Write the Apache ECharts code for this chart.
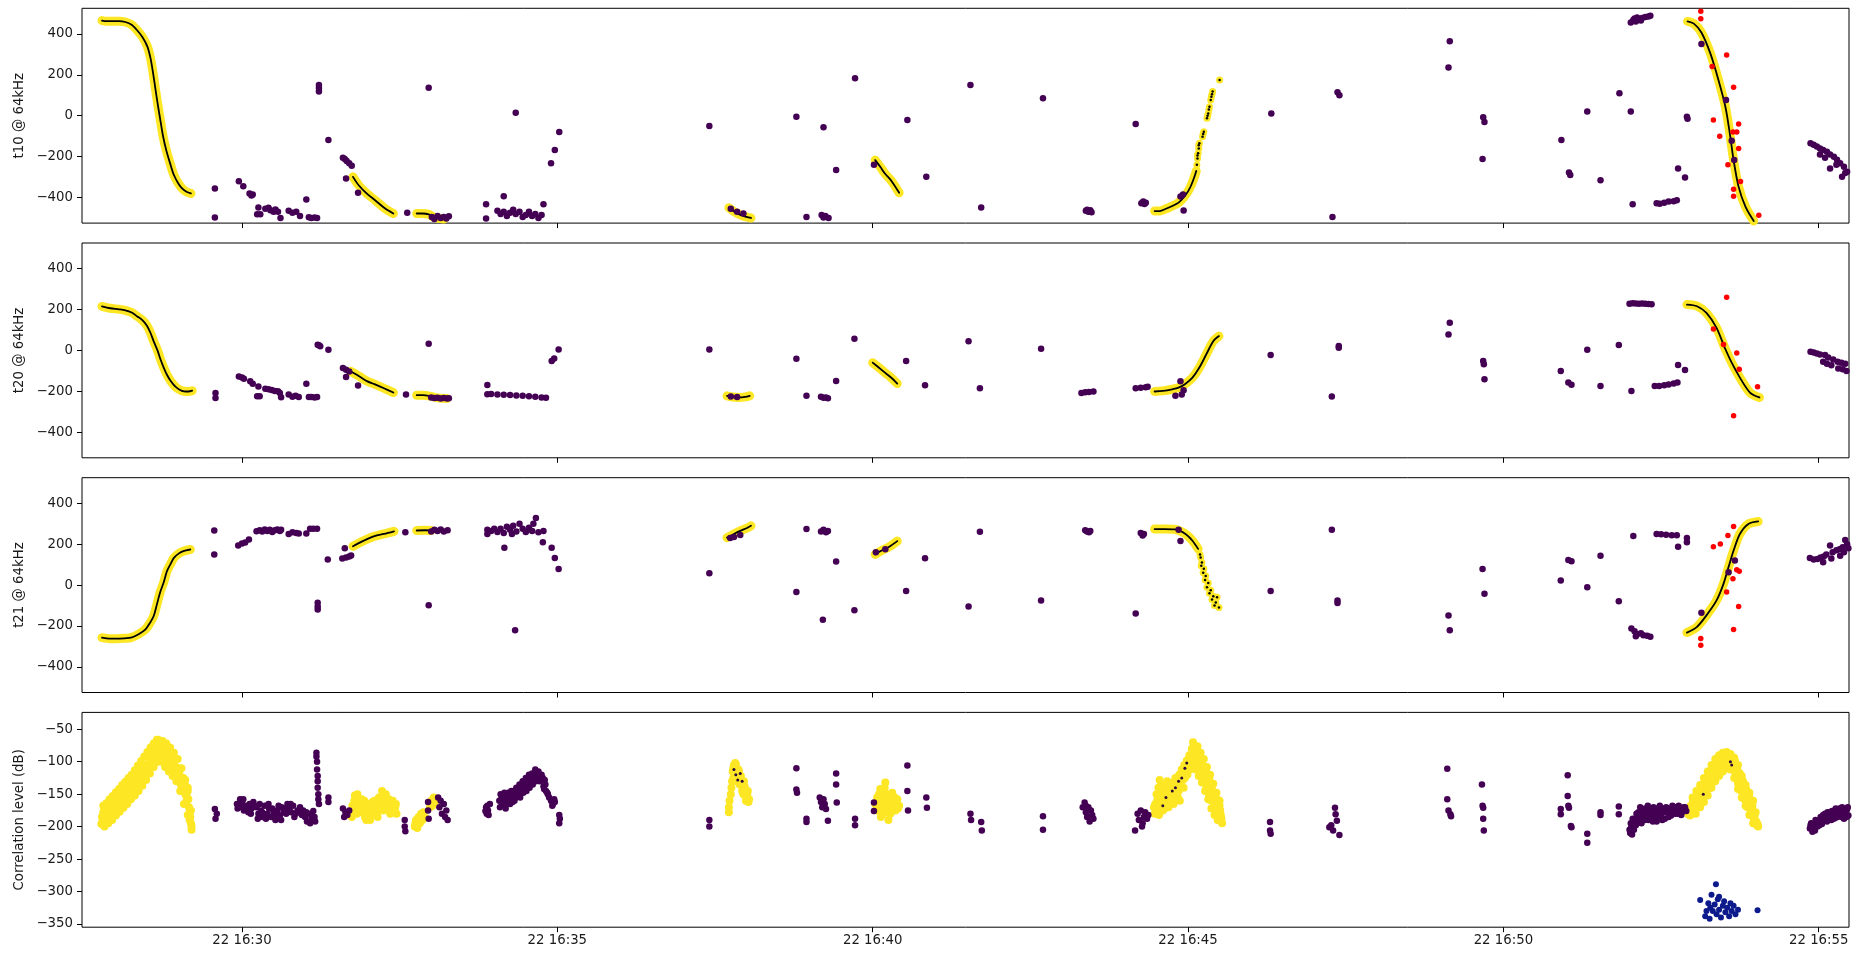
<!DOCTYPE html>
<html>
<head>
<meta charset="utf-8">
<script src="https://cdn.jsdelivr.net/npm/echarts@6/dist/echarts.min.js"></script>
<style>
html,body{margin:0;padding:0;background:#fff;}
#chart{width:1858px;height:954px;}
</style>
</head>
<body>
<div id="chart"></div>
<script>
// x values: minutes after 22 16:00
const X_TICKS = [30, 35, 40, 45, 50, 55];
const T_TICKS = [-400, -200, 0, 200, 400];
const DB_TICKS = [-350, -300, -250, -200, -150, -100, -50];
const PANEL_NAMES = ['t10 @ 64kHz', 't20 @ 64kHz', 't21 @ 64kHz', 'Correlation level (dB)'];

// ---------- t10 ----------
const T10_FIT = [
  [[27.78,465],[27.85,462],[27.95,462],[28.05,462],[28.15,458],[28.25,445],[28.33,420],[28.42,385],[28.5,338],[28.55,280],[28.59,208],[28.63,125],[28.67,44],[28.71,-30],[28.75,-103],[28.8,-170],[28.86,-233],[28.92,-290],[28.99,-331],[29.05,-355],[29.12,-372],[29.19,-380]],
  [[31.76,-299],[31.85,-340],[31.98,-381],[32.11,-413],[32.27,-454],[32.4,-478]],
  [[32.77,-478],[32.86,-478],[32.96,-482],[33.05,-498],[33.2,-505]],
  [[37.72,-450],[37.8,-468],[37.9,-485],[38.0,-495],[38.07,-500]],
  [[40.04,-217],[40.12,-250],[40.2,-285],[40.3,-320],[40.42,-377]],
  [[44.47,-466],[44.55,-466],[44.65,-455],[44.76,-440],[44.85,-425],[44.93,-400],[45.0,-370],[45.05,-340],[45.1,-300],[45.13,-270]],
  [[52.92,461],[53.02,450],[53.14,407],[53.28,306],[53.41,175],[53.52,44],[53.59,-86],[53.65,-217],[53.73,-348],[53.84,-446],[53.97,-515]]
];
const T10_DOTS = [[45.14,-240],[45.15,-209],[45.15,-195],[45.16,-184],[45.17,-160],[45.17,-145],[45.18,-135],[45.23,-103],[45.24,-90],[45.25,-78],[45.3,-13],[45.31,0],[45.32,11],[45.33,30],[45.34,44],[45.36,77],[45.37,93],[45.38,105],[45.39,118],[45.5,175]];
const T10_PURPLE = [
  [29.57,-356],[29.57,-498],[29.95,-320],[30.02,-345],[30.12,-380],[30.15,-390],[30.17,-385],
  [30.26,-449],[30.24,-482],[30.29,-482],[30.37,-455],[30.42,-450],[30.45,-462],[30.5,-470],[30.53,-458],[30.57,-470],[30.61,-500],
  [30.74,-465],[30.8,-475],[30.86,-470],[30.92,-490],[31.02,-410],[31.06,-497],[31.1,-500],[31.15,-498],[31.19,-500],
  [31.22,150],[31.22,135],[31.22,118],[31.37,-119],
  [31.6,-205],[31.63,-212],[31.66,-222],[31.7,-232],[31.74,-245],[31.65,-307],[31.84,-377],
  [32.62,-474],[32.96,137],
  [33.01,-495],[33.05,-505],[33.1,-490],[33.15,-500],[33.2,-495],[33.24,-502],[33.28,-492],
  [33.87,-433],[33.87,-503],[34.15,-394],[34.05,-465],[34.1,-480],[34.15,-470],[34.2,-490],[34.25,-475],[34.3,-460],[34.34,-480],[34.4,-470],[34.45,-495],[34.5,-485],[34.55,-470],[34.6,-490],[34.65,-480],[34.7,-500],[34.75,-485],[34.78,-433],
  [34.34,15],[34.9,-233],[34.96,-168],[35.03,-80],
  [37.41,-50],[37.75,-455],[37.85,-470],[37.95,-478],
  [38.79,-5],[38.95,-495],[39.19,-485],[39.22,-498],[39.25,-490],[39.3,-500],[39.22,-57],[39.42,-266],[39.72,183],
  [40.02,-240],[40.55,-21],[40.85,-299],[41.55,150],[41.72,-449],[42.7,85],
  [43.38,-465],[43.4,-460],[43.42,-470],[43.45,-462],[43.47,-472],
  [44.17,-41],[44.26,-428],[44.29,-420],[44.31,-432],[44.33,-425],
  [44.88,-395],[44.92,-385],[44.93,-463],
  [46.32,11],[47.29,-495],[47.37,115],[47.4,100],
  [49.13,236],[49.15,364],[49.68,-8],[49.7,-31],[49.67,-212],
  [50.92,-119],[51.04,-278],[51.06,-290],[51.33,20],[51.54,-315],[51.84,110],[52.02,20],[52.05,-433],
  [52.02,455],[52.06,468],[52.08,475],[52.1,460],[52.12,480],[52.15,470],[52.18,465],[52.2,478],[52.25,482],[52.3,485],[52.33,488],
  [52.43,-428],[52.48,-430],[52.55,-425],[52.62,-420],[52.7,-418],[52.75,-413],[52.77,-258],[52.88,-302],[52.91,-5],[52.92,-15],
  [53.14,350],[53.53,77],[53.62,-123],[53.66,-217],
  [54.87,-135],[54.92,-142],[54.97,-150],[55.02,-160],[55.07,-168],[55.13,-176],[55.18,-190],[55.24,-201],[55.29,-215],[55.34,-233],[55.4,-250],[55.45,-274],
  [55.02,-190],[55.1,-205],[55.18,-258],[55.28,-240],[55.37,-299],[55.42,-280]
];
const T10_RED = [[53.13,510],[53.13,474],[53.54,297],[53.31,240],[53.65,139],[53.33,-21],[53.73,-41],[53.64,-80],[53.7,-80],[53.43,-100],[53.73,-160],[53.56,-240],[53.76,-322],[53.65,-359],[53.65,-394],[54.05,-487]];

// ---------- t20 ----------
const T20_FIT = [
  [[27.78,215],[27.91,206],[28.05,201],[28.15,196],[28.25,185],[28.34,166],[28.42,148],[28.49,122],[28.55,85],[28.6,44],[28.66,0],[28.71,-46],[28.76,-85],[28.81,-119],[28.87,-150],[28.94,-176],[29.01,-192],[29.08,-200],[29.15,-201],[29.21,-197]],
  [[31.72,-102],[31.85,-125],[31.98,-150],[32.1,-165],[32.25,-185],[32.4,-206]],
  [[32.77,-219],[32.87,-219],[32.96,-222],[33.1,-232],[33.25,-235]],
  [[37.69,-222],[37.78,-228],[37.88,-230],[37.98,-227],[38.05,-222]],
  [[40.0,-60],[40.1,-85],[40.2,-110],[40.3,-135],[40.39,-162]],
  [[44.47,-201],[44.6,-198],[44.75,-190],[44.85,-182],[44.95,-165],[45.07,-133],[45.18,-84],[45.29,-19],[45.4,45],[45.49,70]],
  [[52.91,224],[53.07,216],[53.22,183],[53.38,110],[53.51,13],[53.62,-60],[53.75,-133],[53.91,-206],[54.06,-230]]
];
const T20_DOTS = [];
const T20_PURPLE = [
  [29.58,-208],[29.58,-233],[29.95,-127],[30.0,-133],[30.03,-138],[30.13,-151],[30.17,-163],[30.26,-176],[30.24,-224],[30.28,-224],
  [30.37,-187],[30.42,-190],[30.47,-193],[30.52,-198],[30.57,-200],[30.6,-208],[30.62,-229],
  [30.74,-216],[30.8,-226],[30.85,-222],[30.9,-228],[31.02,-163],[31.06,-228],[31.1,-228],[31.15,-230],[31.19,-228],
  [31.2,28],[31.22,25],[31.24,20],[31.37,3],
  [31.6,-86],[31.65,-95],[31.7,-103],[31.65,-130],[31.84,-171],[32.6,-216],[32.96,33],
  [33.0,-230],[33.05,-233],[33.1,-231],[33.15,-235],[33.2,-233],[33.25,-235],[33.28,-234],
  [33.89,-169],[33.89,-214],[33.95,-213],[34.05,-215],[34.15,-217],[34.25,-218],[34.35,-220],[34.45,-222],[34.55,-224],[34.65,-226],[34.75,-230],[34.82,-232],
  [34.91,-52],[34.95,-40],[35.02,5],
  [37.41,5],[37.75,-225],[37.85,-228],
  [38.79,-41],[38.95,-222],[39.18,-226],[39.22,-232],[39.26,-230],[39.29,-234],[39.42,-149],[39.71,57],
  [40.53,-52],[40.83,-170],[41.52,45],[41.7,-185],[42.67,8],
  [43.31,-208],[43.37,-205],[43.43,-203],[43.5,-201],
  [44.17,-185],[44.25,-182],[44.33,-180],[44.36,-178],
  [44.8,-222],[44.9,-215],[44.88,-151],[44.93,-195],
  [46.31,-23],[47.28,-225],[47.39,21],[47.39,13],
  [49.13,78],[49.15,135],[49.68,-52],[49.69,-68],[49.7,-141],
  [50.91,-101],[51.03,-157],[51.08,-168],[51.33,3],[51.54,-174],[51.83,26],
  [52.0,228],[52.05,230],[52.1,229],[52.15,228],[52.2,229],[52.25,228],[52.3,227],[52.35,226],[52.03,-198],
  [52.4,-174],[52.47,-174],[52.55,-170],[52.62,-167],[52.7,-162],[52.76,-157],[52.77,-71],[52.88,-96],
  [54.87,-6],[54.92,-10],[54.97,-15],[55.02,-20],[55.1,-23],[55.15,-35],[55.23,-44],[55.3,-55],[55.36,-60],[55.42,-65],
  [55.07,-55],[55.13,-65],[55.2,-72],[55.31,-88],[55.38,-92],[55.44,-101]
];
const T20_RED = [[53.54,260],[53.33,104],[53.49,29],[53.7,-13],[53.74,-92],[53.65,-320],[54.03,-178]];

// ---------- t21 ----------
const T21_FIT = [
  [[27.78,-257],[27.9,-262],[28.02,-262],[28.14,-260],[28.24,-257],[28.36,-240],[28.47,-216],[28.54,-185],[28.6,-151],[28.65,-95],[28.7,-37],[28.76,15],[28.81,68],[28.87,105],[28.92,133],[29.0,155],[29.07,166],[29.18,174]],
  [[31.76,190],[31.85,205],[31.95,220],[32.1,239],[32.25,250],[32.41,263]],
  [[32.77,267],[32.9,268],[33.0,267]],
  [[37.69,232],[37.8,250],[37.9,265],[38.0,278],[38.07,290]],
  [[40.04,150],[40.15,170],[40.25,185],[40.39,215]],
  [[44.47,274],[44.63,274],[44.8,272],[44.96,250],[45.07,217],[45.16,177]],
  [[52.91,-232],[53.07,-204],[53.22,-148],[53.38,-75],[53.49,6],[53.57,88],[53.65,169],[53.75,250],[53.88,298],[54.04,311]]
];
const T21_DOTS = [[45.19,150],[45.2,135],[45.22,110],[45.21,95],[45.25,80],[45.24,60],[45.28,45],[45.27,25],[45.32,10],[45.3,-10],[45.36,-25],[45.34,-40],[45.4,-55],[45.38,-70],[45.44,-85],[45.42,-100],[45.49,-110],[45.46,-60]];
const T21_PURPLE = [
  [29.56,267],[29.56,150],[29.94,193],[30.0,203],[30.05,208],[30.11,223],[30.23,263],
  [30.28,268],[30.32,262],[30.36,272],[30.4,265],[30.44,270],[30.48,260],[30.52,268],[30.56,272],[30.6,265],[30.62,270],
  [30.74,250],[30.8,258],[30.86,255],[30.9,252],[31.02,252],[31.08,275],[31.13,275],[31.19,276],
  [31.2,-86],[31.2,-105],[31.2,-119],[31.36,125],
  [31.59,130],[31.63,180],[31.65,135],[31.7,140],[31.73,145],
  [32.59,258],[32.96,-99],
  [33.0,262],[33.05,270],[33.1,265],[33.15,272],[33.2,262],[33.26,268],
  [33.89,270],[33.89,250],[33.95,265],[34.0,275],[34.05,260],[34.1,275],[34.15,255],[34.2,285],[34.25,270],[34.28,250],[34.3,290],[34.35,262],[34.4,300],[34.45,275],[34.5,260],[34.55,280],[34.6,265],[34.66,328],[34.7,258],[34.78,265],[34.62,300],
  [34.16,182],[34.33,-221],[34.77,209],[34.91,182],[34.96,133],[35.02,79],
  [37.41,58],[37.74,230],[37.8,235],[37.9,245],
  [38.79,-34],[38.95,274],[39.18,262],[39.22,270],[39.26,258],[39.29,265],[39.21,-169],[39.42,115],[39.71,-123],
  [40.05,160],[40.2,175],
  [40.53,-29],[40.83,131],[41.52,-104],[41.7,261],[42.67,-75],
  [43.37,268],[43.4,262],[43.43,258],[43.45,265],
  [44.17,-139],[44.25,255],[44.28,242],[44.3,250],
  [44.85,270],[44.88,215],
  [46.31,-29],[47.28,271],[47.37,-75],[47.37,-88],
  [49.13,-148],[49.15,-221],[49.67,79],[49.7,-42],
  [50.91,23],[51.03,123],[51.08,117],[51.33,-10],[51.54,144],[51.83,-79],[52.06,240],
  [52.03,-212],[52.08,-225],[52.1,-250],[52.12,-240],[52.18,-235],[52.22,-245],[52.28,-248],[52.33,-253],
  [52.43,250],[52.5,248],[52.58,246],[52.67,244],[52.75,244],[52.77,188],[52.91,230],[52.91,209],
  [53.14,-135],[53.57,63],[53.67,120],
  [54.86,133],[54.92,125],[54.98,128],[55.03,135],[55.08,140],[55.12,150],[55.18,193],[55.22,160],[55.28,170],[55.33,175],[55.38,185],[55.42,221],[55.45,200],[55.47,180],
  [55.07,112],[55.2,130],[55.34,144],[55.4,160]
];
const T21_RED = [[53.13,-261],[53.13,-294],[53.33,188],[53.44,201],[53.56,242],[53.65,287],[53.7,75],[53.74,68],[53.64,31],[53.54,-34],[53.73,-104],[53.65,-217]];

// ---------- correlation level ----------
const CORR_YELLOW = [
  [27.77,-196],[27.78,-185],[27.8,-178],[27.83,-190],[27.86,-172],[27.9,-183],[27.93,-165],[27.96,-178],[28.0,-160],[28.03,-172],[28.06,-152],[28.1,-163],[28.13,-145],[28.16,-158],[28.2,-138],[28.23,-150],[28.26,-130],[28.3,-143],[28.33,-122],[28.36,-135],[28.4,-113],[28.43,-127],[28.46,-105],[28.5,-118],[28.53,-95],[28.56,-108],[28.59,-85],[28.62,-98],[28.65,-72],[28.67,-66],[28.7,-85],[28.72,-70],[28.75,-95],[28.77,-78],[28.8,-90],[28.82,-100],[28.85,-85],[28.88,-100],[28.9,-110],[28.93,-98],[28.96,-115],[28.98,-125],[29.0,-110],[29.02,-130],[29.05,-140],[29.07,-125],[29.1,-150],[29.12,-160],[29.14,-145],[29.16,-170],[29.17,-178],[29.18,-185],[29.2,-200],[29.2,-205],
  [27.79,-192],[27.82,-182],[27.85,-186],[27.88,-176],[27.91,-170],[27.94,-180],[27.97,-168],[28.01,-168],[28.04,-158],[28.08,-160],[28.11,-150],[28.15,-150],[28.18,-143],[28.21,-145],[28.25,-137],[28.28,-135],[28.31,-128],[28.35,-128],[28.38,-120],[28.41,-122],[28.45,-112],[28.48,-110],[28.51,-105],[28.55,-100],[28.58,-92],[28.6,-95],[28.63,-80],[28.66,-85],[28.68,-75],[28.71,-92],[28.74,-80],[28.76,-88],[28.79,-100],[28.83,-92],[28.86,-108],[28.89,-90],[28.92,-105],[28.95,-108],[28.97,-118],[29.01,-120],[29.03,-135],[29.06,-132],[29.09,-142],[29.11,-138],[29.13,-155],[29.15,-158],[29.17,-190],[29.19,-195],[29.19,-175],
  [27.8,-168],[27.85,-164],[27.9,-158],[27.95,-153],[28.0,-147],[28.05,-142],[28.1,-136],[28.15,-131],[28.2,-125],[28.25,-120],[28.3,-113],[28.35,-106],[28.4,-99],[28.45,-92],[28.5,-85],[28.55,-78],[28.6,-72],[28.65,-66],
  [27.82,-200],[27.88,-195],[27.94,-190],[28.0,-183],[28.06,-177],[28.12,-171],[28.18,-165],[28.24,-158],[28.3,-152],[28.36,-145],[28.42,-137],[28.48,-128],[28.54,-118],[28.6,-108],[28.66,-100],[28.72,-100],
  [28.74,-68],[28.8,-72],[28.86,-78],[28.92,-86],[28.98,-96],[29.04,-110],[29.1,-128],[29.14,-140],
  [28.78,-108],[28.84,-115],[28.9,-122],[28.96,-130],[29.02,-145],[29.08,-165],[29.14,-182],
  [31.72,-178],[31.75,-168],[31.78,-160],[31.8,-172],[31.83,-150],[31.86,-165],[31.88,-178],[31.9,-158],[31.93,-170],[31.95,-185],[31.98,-165],[32.0,-175],[32.03,-190],[32.05,-168],[32.08,-180],[32.1,-160],[32.12,-172],[32.15,-185],[32.17,-155],[32.2,-165],[32.22,-145],[32.24,-175],[32.26,-160],[32.28,-150],[32.3,-170],[32.33,-158],[32.35,-180],[32.38,-165],[32.4,-175],[32.43,-170],[32.45,-180],
  [31.74,-185],[31.77,-175],[31.79,-152],[31.82,-180],[31.85,-158],[31.87,-170],[31.91,-175],[31.94,-160],[31.97,-190],[31.99,-180],[32.02,-170],[32.04,-182],[32.07,-162],[32.09,-175],[32.11,-168],[32.14,-178],[32.16,-165],[32.19,-172],[32.21,-158],[32.23,-168],[32.25,-152],[32.27,-168],[32.29,-162],[32.32,-175],[32.34,-165],[32.37,-172],[32.39,-160],[32.42,-178],[32.44,-165],
  [32.74,-200],[32.76,-190],[32.78,-202],[32.8,-185],[32.82,-195],[32.84,-180],[32.86,-190],[32.88,-178],[32.9,-186],[32.75,-195],[32.79,-192],[32.83,-188],
  [32.98,-170],[33.0,-160],[33.02,-168],[33.04,-155],[33.06,-163],[33.08,-158],
  [37.72,-178],[37.72,-170],[37.75,-150],[37.77,-130],[37.78,-115],[37.8,-105],[37.82,-102],[37.84,-110],[37.86,-120],[37.88,-115],[37.9,-128],[37.92,-135],[37.94,-140],[37.96,-130],[37.98,-148],[38.0,-155],[38.02,-145],[38.04,-158],[37.79,-125],[37.85,-130],
  [37.73,-160],[37.76,-140],[37.79,-110],[37.81,-118],[37.83,-104],[37.87,-112],[37.89,-135],[37.91,-122],[37.93,-145],[37.95,-150],[37.97,-138],[37.99,-160],[38.01,-150],[38.03,-162],
  [40.04,-165],[40.07,-155],[40.09,-175],[40.11,-160],[40.13,-185],[40.15,-150],[40.17,-168],[40.19,-140],[40.21,-178],[40.23,-160],[40.25,-190],[40.27,-155],[40.29,-170],[40.31,-148],[40.33,-165],[40.36,-175],[40.39,-158],[40.42,-168],
  [40.05,-175],[40.08,-165],[40.1,-150],[40.12,-170],[40.14,-160],[40.16,-180],[40.18,-155],[40.2,-165],[40.22,-150],[40.24,-170],[40.26,-165],[40.28,-180],[40.3,-160],[40.32,-175],[40.35,-155],[40.37,-168],[40.4,-172],[40.2,-132],[40.12,-142],
  [44.47,-180],[44.48,-165],[44.5,-150],[44.52,-170],[44.55,-128],[44.56,-145],[44.58,-160],[44.6,-175],[44.62,-150],[44.64,-140],[44.66,-165],[44.68,-155],[44.7,-135],[44.72,-148],[44.74,-160],[44.76,-132],[44.78,-145],[44.8,-125],[44.82,-140],[44.84,-155],[44.86,-120],[44.88,-132],[44.9,-112],[44.92,-128],[44.94,-105],[44.96,-118],[44.98,-98],[45.0,-110],[45.02,-90],[45.04,-102],[45.06,-80],[45.08,-70],[45.1,-85],[45.12,-95],[45.14,-80],[45.16,-100],[45.18,-90],[45.2,-110],[45.22,-100],[45.24,-120],[45.26,-108],[45.28,-130],[45.3,-118],[45.32,-140],[45.34,-128],[45.36,-150],[45.38,-138],[45.4,-160],[45.42,-148],[45.44,-168],[45.46,-158],[45.48,-175],[45.5,-168],[45.52,-182],[45.53,-188],
  [44.46,-170],[44.49,-178],[44.51,-160],[44.53,-140],[44.54,-182],[44.57,-135],[44.59,-150],[44.61,-165],[44.63,-172],[44.65,-145],[44.67,-130],[44.69,-170],[44.71,-158],[44.73,-138],[44.75,-150],[44.77,-165],[44.79,-135],[44.81,-150],[44.83,-128],[44.85,-145],[44.87,-160],[44.89,-138],[44.91,-120],[44.93,-140],[44.95,-125],[44.97,-110],[44.99,-120],[45.01,-100],[45.03,-112],[45.05,-92],[45.07,-88],[45.09,-78],[45.11,-90],[45.13,-105],[45.15,-90],[45.17,-110],[45.19,-100],[45.21,-120],[45.23,-110],[45.25,-130],[45.27,-118],[45.29,-140],[45.31,-128],[45.33,-150],[45.35,-138],[45.37,-160],[45.39,-148],[45.41,-170],[45.43,-158],[45.45,-175],[45.47,-165],[45.49,-182],[45.51,-175],
  [45.15,-76],[45.2,-86],[45.25,-96],[45.3,-108],[45.35,-120],[45.4,-134],[45.45,-148],[45.5,-160],
  [45.12,-112],[45.17,-122],[45.22,-132],[45.27,-145],[45.32,-158],[45.37,-172],[45.42,-182],[45.47,-190],[45.54,-195],
  [52.93,-181],[52.95,-172],[52.98,-178],[53.0,-165],[53.03,-172],[53.05,-158],[53.08,-165],[53.1,-150],[53.13,-158],[53.15,-142],[53.18,-150],[53.2,-132],[53.23,-142],[53.25,-125],[53.28,-135],[53.3,-115],[53.33,-125],[53.35,-108],[53.38,-118],[53.4,-100],[53.43,-110],[53.45,-95],[53.48,-105],[53.5,-90],[53.53,-100],[53.55,-92],[53.58,-105],[53.6,-95],[53.63,-110],[53.65,-100],[53.68,-118],[53.7,-108],[53.73,-128],[53.75,-118],[53.78,-140],[53.8,-130],[53.83,-152],[53.85,-142],[53.88,-165],[53.9,-155],[53.93,-175],[53.95,-168],[53.98,-185],[54.0,-178],[54.03,-196],[54.04,-200],
  [52.94,-176],[52.96,-183],[52.97,-168],[52.99,-172],[53.01,-160],[53.02,-176],[53.04,-165],[53.06,-152],[53.07,-170],[53.09,-158],[53.11,-145],[53.12,-162],[53.14,-150],[53.16,-136],[53.17,-155],[53.19,-142],[53.21,-128],[53.22,-146],[53.24,-132],[53.26,-120],[53.27,-140],[53.29,-125],[53.31,-110],[53.32,-130],[53.34,-115],[53.36,-104],[53.37,-122],[53.39,-108],[53.41,-98],[53.42,-114],[53.44,-100],[53.46,-92],[53.47,-108],[53.49,-95],[53.51,-88],[53.52,-104],[53.54,-95],[53.56,-90],[53.57,-100],[53.59,-98],[53.61,-92],[53.62,-105],[53.64,-105],[53.66,-112],[53.67,-98],[53.69,-122],[53.71,-112],[53.72,-133],[53.74,-122],[53.76,-135],[53.77,-145],[53.79,-135],[53.81,-148],[53.82,-158],[53.84,-145],[53.86,-160],[53.87,-170],[53.89,-158],[53.91,-172],[53.92,-180],[53.94,-170],[53.96,-182],[53.97,-190],[53.99,-180],[54.01,-192],[54.02,-198],
  [53.0,-155],[53.06,-145],[53.12,-136],[53.18,-125],[53.24,-115],[53.3,-105],[53.36,-96],[53.42,-90],[53.48,-86],[53.54,-85],[53.6,-88],[53.66,-94],[53.72,-105],[53.78,-122],[53.84,-136],[53.9,-148],[53.96,-160],
  [53.05,-180],[53.12,-170],[53.18,-162],[53.24,-152],[53.3,-140],[53.36,-130],[53.42,-122],[53.48,-115],[53.54,-110],[53.6,-112],[53.66,-125],[53.72,-142],[53.78,-155],[53.84,-168],[53.9,-182],[53.96,-195]
];
const CORR_PURPLE = [
  [29.57,-173],[29.58,-188],[29.6,-180],
  [29.92,-165],[29.95,-170],[29.97,-158],[30.0,-162],[30.03,-175],[30.06,-168],[30.1,-178],[30.12,-165],[30.15,-172],[30.18,-162],
  [30.23,-170],[30.26,-180],[30.3,-175],[30.33,-185],[30.36,-168],[30.4,-180],[30.43,-172],[30.46,-185],[30.5,-178],[30.53,-190],[30.56,-175],[30.6,-183],[30.63,-170],[30.66,-178],
  [30.72,-165],[30.75,-172],[30.78,-178],[30.81,-168],[30.85,-180],[30.88,-175],[30.92,-170],[30.95,-182],
  [31.0,-185],[31.03,-192],[31.06,-180],[31.1,-188],[31.13,-176],[31.16,-192],
  [29.93,-172],[29.98,-168],[30.02,-158],[30.08,-172],[30.14,-180],[30.2,-168],[30.25,-188],[30.28,-165],[30.32,-178],[30.38,-188],[30.42,-165],[30.48,-172],[30.52,-182],[30.58,-168],[30.62,-190],[30.68,-172],[30.7,-180],[30.77,-165],[30.83,-185],[30.9,-178],[30.97,-175],[31.02,-178],[31.08,-195],[31.12,-184],[31.15,-185],
  [31.18,-86],[31.18,-92],[31.19,-100],[31.19,-112],[31.2,-122],[31.2,-130],[31.2,-140],[31.21,-150],[31.21,-158],[31.22,-165],
  [31.37,-155],[31.37,-162],
  [31.6,-172],[31.62,-185],[31.64,-178],[31.67,-182],[31.7,-175],
  [32.58,-190],[32.58,-200],[32.59,-207],
  [32.95,-162],[32.95,-175],[32.96,-188],
  [33.11,-155],[33.13,-170],[33.15,-160],[33.17,-180],[33.2,-165],[33.22,-185],[33.24,-175],[33.26,-190],
  [33.87,-170],[33.88,-180],[33.9,-175],[33.93,-165],[34.08,-160],[34.1,-150],[34.12,-168],[34.15,-155],[34.18,-172],[34.2,-160],[34.22,-148],[34.25,-165],[34.28,-152],[34.3,-145],[34.32,-160],[34.35,-140],[34.38,-150],[34.4,-135],[34.42,-148],[34.45,-130],[34.48,-142],[34.5,-125],[34.52,-138],[34.55,-120],[34.58,-132],[34.6,-118],[34.62,-128],[34.65,-112],[34.68,-122],[34.7,-115],[34.72,-130],[34.75,-120],[34.78,-138],[34.8,-128],[34.82,-145],[34.85,-150],[34.9,-160],[34.93,-165],[34.96,-162],[35.03,-182],[35.03,-195],[35.04,-188],
  [33.86,-176],[33.89,-168],[33.91,-182],[34.09,-170],[34.11,-158],[34.14,-162],[34.16,-148],[34.19,-165],[34.21,-155],[34.24,-158],[34.27,-145],[34.29,-162],[34.31,-150],[34.34,-155],[34.36,-145],[34.39,-142],[34.41,-155],[34.44,-138],[34.46,-148],[34.49,-132],[34.51,-145],[34.54,-128],[34.56,-140],[34.59,-125],[34.61,-135],[34.64,-120],[34.66,-130],[34.69,-118],[34.71,-122],[34.74,-128],[34.77,-125],[34.79,-142],[34.81,-135],[34.84,-148],[34.87,-155],[34.92,-168],[34.95,-158],
  [37.41,-190],[37.41,-200],
  [38.79,-110],[38.79,-143],[38.8,-148],[38.95,-188],[38.95,-193],
  [39.16,-155],[39.18,-162],[39.2,-170],[39.22,-158],[39.24,-165],[39.26,-173],[39.29,-191],
  [39.42,-118],[39.42,-135],[39.43,-163],[39.72,-188],[39.72,-198],
  [40.02,-163],[40.02,-176],[40.55,-106],[40.55,-145],[40.56,-175],[40.85,-155],[40.86,-171],
  [41.55,-180],[41.56,-190],[41.72,-193],[41.73,-206],[42.7,-184],[42.7,-205],
  [43.33,-170],[43.36,-163],[43.38,-178],[43.4,-185],[43.42,-170],[43.44,-192],[43.46,-175],[43.48,-182],[43.5,-188],[43.38,-168],
  [44.16,-206],[44.2,-180],[44.22,-190],[44.25,-175],[44.28,-195],[44.3,-185],[44.32,-178],[44.35,-188],[44.37,-182],[44.27,-200],
  [46.3,-193],[46.3,-206],[46.31,-211],
  [47.24,-201],[47.27,-198],[47.3,-206],[47.33,-171],[47.34,-181],[47.36,-191],[47.4,-213],
  [49.11,-111],[49.11,-158],[49.13,-175],[49.16,-181],[49.17,-184],
  [49.66,-135],[49.67,-168],[49.68,-171],[49.68,-188],[49.69,-206],
  [50.91,-173],[50.91,-181],[51.02,-121],[51.02,-153],[51.03,-168],[51.04,-171],[51.07,-199],[51.08,-201],
  [51.33,-211],[51.33,-225],[51.54,-178],[51.54,-182],[51.83,-169],[51.83,-181],
  [52.0,-205],[52.02,-195],[52.04,-212],[52.06,-200],[52.08,-190],[52.1,-198],[52.12,-185],[52.14,-178],[52.16,-192],[52.18,-182],[52.2,-175],[52.22,-188],[52.25,-172],[52.28,-183],[52.3,-190],[52.33,-175],[52.36,-185],[52.38,-170],[52.4,-180],[52.43,-192],[52.46,-175],[52.5,-182],[52.53,-172],[52.56,-188],[52.6,-178],[52.63,-172],[52.66,-183],[52.7,-175],[52.73,-170],[52.76,-180],[52.8,-172],[52.83,-178],[52.86,-170],[52.9,-176],
  [52.01,-210],[52.03,-200],[52.05,-188],[52.07,-205],[52.09,-195],[52.11,-180],[52.13,-192],[52.15,-185],[52.17,-170],[52.19,-195],[52.21,-182],[52.24,-190],[52.27,-178],[52.29,-168],[52.32,-185],[52.35,-178],[52.37,-192],[52.42,-172],[52.45,-185],[52.48,-168],[52.52,-190],[52.55,-178],[52.58,-170],[52.62,-185],[52.65,-175],[52.68,-168],[52.72,-180],[52.75,-173],[52.78,-168],[52.82,-182],[52.85,-175],[52.88,-170],
  [54.86,-203],[54.88,-195],[54.9,-208],[54.93,-198],[54.95,-190],[54.98,-200],[55.0,-192],[55.03,-185],[55.05,-196],[55.08,-188],[55.1,-180],[55.13,-192],[55.15,-184],[55.18,-178],[55.2,-190],[55.23,-182],[55.25,-175],[55.28,-186],[55.3,-178],[55.33,-172],[55.36,-185],[55.38,-176],[55.4,-188],[55.43,-180],[55.45,-173],[55.47,-183],
  [54.87,-198],[54.91,-200],[54.94,-206],[54.97,-192],[55.01,-198],[55.04,-190],[55.07,-182],[55.11,-186],[55.14,-178],[55.17,-188],[55.21,-176],[55.24,-188],[55.27,-172],[55.31,-184],[55.34,-178],[55.37,-170],[55.41,-176],[55.44,-185],[55.46,-170]
];
const CORR_MARKS = [[37.8,-112],[37.83,-120],[37.86,-128],[37.9,-118],[37.93,-130],[44.6,-168],[44.65,-155],[44.75,-145],[44.8,-140],[44.85,-130],[44.9,-125],[44.95,-110],[44.98,-102],[53.17,-150],[53.6,-100],[53.62,-105]];
const CORR_BLUE = [[53.37,-289],[53.3,-305],[53.12,-313],[53.25,-318],[53.28,-325],[53.32,-330],[53.35,-320],[53.38,-335],[53.4,-312],[53.42,-328],[53.45,-340],[53.48,-322],[53.5,-315],[53.52,-332],[53.55,-325],[53.58,-338],[53.6,-318],[53.62,-330],[53.65,-322],[53.68,-335],[53.72,-328],[53.2,-338],[53.22,-330],[53.27,-342],[53.42,-308],[54.03,-329]];

// ---------- build ----------
const YELLOW = '#fde725', PURPLE = '#440154', RED = '#ff0000', BLUE = '#0d1a8c';
const FONT = 'DejaVu Sans';
const TOPS = [8.3, 243, 477.7, 712.4];
const H = 214.8;
const XMIN = 27.463, XMAX = 55.48;
const minus = v => String(v).replace('-', '\u2212');

const grids = TOPS.map(t => ({left: 82, right: 9, top: t, height: H, show: true, borderColor: '#000', borderWidth: 1, backgroundColor: 'transparent'}));
const xAxes = TOPS.map((t, i) => ({
  type: 'value', gridIndex: i, min: XMIN, max: XMAX,
  axisLine: {show: false, onZero: false},
  axisTick: {show: true, customValues: X_TICKS, length: 5, lineStyle: {color: '#000', width: 1}},
  axisLabel: {show: i === 3, customValues: X_TICKS, margin: 7, color: '#1a1a1a', fontFamily: FONT, fontSize: 13.3, formatter: v => '22 16:' + v},
  splitLine: {show: false}
}));
const yAxes = TOPS.map((t, i) => {
  const corr = i === 3;
  const ticks = corr ? DB_TICKS : T_TICKS;
  return {
    type: 'value', gridIndex: i,
    min: corr ? -355 : -525, max: corr ? -24 : 525,
    name: PANEL_NAMES[i], nameLocation: 'middle', nameGap: 50,
    nameTextStyle: {color: '#1a1a1a', fontFamily: FONT, fontSize: 13.3},
    axisLine: {show: false, onZero: false},
    axisTick: {show: true, customValues: ticks, length: 5, lineStyle: {color: '#000', width: 1}},
    axisLabel: {customValues: ticks, margin: 9, color: '#1a1a1a', fontFamily: FONT, fontSize: 13.3, formatter: minus},
    splitLine: {show: false}
  };
});

const series = [];
function scatter(i, data, color, size, z) {
  series.push({type: 'scatter', xAxisIndex: i, yAxisIndex: i, data, symbol: 'circle', symbolSize: size, itemStyle: {color, opacity: 1}, z, silent: true, animation: false});
}
function fitLines(i, segs, color, width, z) {
  segs.forEach(seg => series.push({type: 'line', xAxisIndex: i, yAxisIndex: i, data: seg, showSymbol: false, smooth: 0.3, lineStyle: {color, width, cap: 'round', join: 'round'}, z, silent: true, animation: false}));
}
const PANELS = [
  [T10_FIT, T10_DOTS, T10_PURPLE, T10_RED],
  [T20_FIT, T20_DOTS, T20_PURPLE, T20_RED],
  [T21_FIT, T21_DOTS, T21_PURPLE, T21_RED]
];
PANELS.forEach(([fit, dots, purple, red], i) => {
  fitLines(i, fit, YELLOW, 9, 2);
  scatter(i, dots, YELLOW, 7, 2);
  fitLines(i, fit, '#000', 1.8, 3);
  scatter(i, dots, '#000', 2.5, 3);
  scatter(i, purple, PURPLE, 6.5, 4);
  scatter(i, red, RED, 5.5, 5);
});
scatter(3, CORR_YELLOW, YELLOW, 8, 2);
scatter(3, CORR_PURPLE, PURPLE, 6.5, 3);
scatter(3, CORR_MARKS, '#2a0a3a', 3, 4);
scatter(3, CORR_BLUE, BLUE, 6, 5);

const chart = echarts.init(document.getElementById('chart'), null, {renderer: 'canvas'});
chart.setOption({
  animation: false,
  backgroundColor: '#fff',
  grid: grids, xAxis: xAxes, yAxis: yAxes, series
});
</script>
</body>
</html>
